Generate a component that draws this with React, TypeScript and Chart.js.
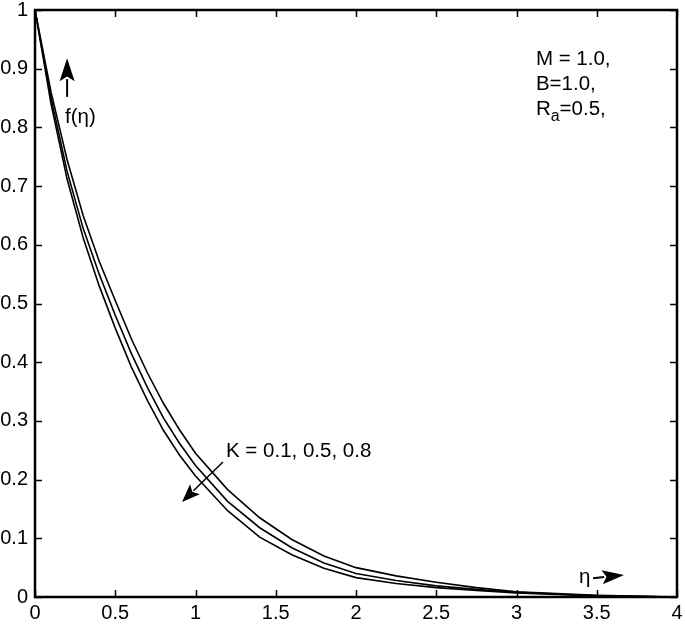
import React, { useEffect, useRef } from "react";
import { Chart, registerables } from "chart.js";

Chart.register(...registerables);

// eta values (x axis)
const eta = [0, 0.1, 0.2, 0.3, 0.4, 0.5, 0.6, 0.7, 0.8, 0.9, 1.0, 1.2, 1.4, 1.6, 1.8, 2.0, 2.25, 2.5, 2.75, 3.0, 3.5, 4.0];
// f(eta) for K = 0.1 (outer), 0.5 (middle), 0.8 (inner)
const fK01 = [1, 0.86, 0.745, 0.65, 0.572, 0.505, 0.44, 0.382, 0.33, 0.285, 0.245, 0.183, 0.135, 0.098, 0.07, 0.05, 0.036, 0.025, 0.016, 0.009, 0.003, 0];
const fK05 = [1, 0.85, 0.725, 0.628, 0.55, 0.48, 0.415, 0.357, 0.305, 0.262, 0.224, 0.163, 0.118, 0.084, 0.058, 0.04, 0.028, 0.019, 0.013, 0.008, 0.002, 0];
const fK08 = [1, 0.84, 0.712, 0.612, 0.53, 0.458, 0.392, 0.335, 0.284, 0.242, 0.206, 0.147, 0.102, 0.072, 0.049, 0.033, 0.023, 0.016, 0.011, 0.007, 0.002, 0];

const xTicks = [0, 0.5, 1, 1.5, 2, 2.5, 3, 3.5, 4];
const yTicks = [0, 0.1, 0.2, 0.3, 0.4, 0.5, 0.6, 0.7, 0.8, 0.9, 1];

const paramM = "M = 1.0,";
const paramB = "B=1.0,";
const paramR = "R";
const paramRSub = "a";
const paramRVal = "=0.5,";
const kLabel = "K = 0.1, 0.5, 0.8";
const fLabel = "f(η)";
const etaLabel = "η";

const FONT = "'Liberation Sans', Arial, Helvetica, sans-serif";

function drawArrow(ctx: CanvasRenderingContext2D, x1: number, y1: number, x2: number, y2: number, headLen: number, headHalf: number, lw: number) {
  const dx = x2 - x1, dy = y2 - y1;
  const len = Math.hypot(dx, dy);
  const ux = dx / len, uy = dy / len;
  const bx = x2 - ux * headLen, by = y2 - uy * headLen;
  ctx.beginPath();
  ctx.lineWidth = lw;
  ctx.moveTo(x1, y1);
  ctx.lineTo(bx + ux * 2, by + uy * 2);
  ctx.stroke();
  const nx = -uy, ny = ux;
  const notch = headLen * 0.2;
  ctx.beginPath();
  ctx.moveTo(x2, y2);
  ctx.lineTo(bx + nx * headHalf, by + ny * headHalf);
  ctx.lineTo(bx + ux * notch, by + uy * notch);
  ctx.lineTo(bx - nx * headHalf, by - ny * headHalf);
  ctx.closePath();
  ctx.fill();
}

const framePlugin = {
  id: "framePlugin",
  afterDraw(chart: any) {
    const ctx: CanvasRenderingContext2D = chart.ctx;
    const { left, right, top, bottom } = chart.chartArea;
    const xs = chart.scales.x;
    const ys = chart.scales.y;
    const X = (v: number) => xs.getPixelForValue(v);
    const Y = (v: number) => ys.getPixelForValue(v);
    ctx.save();
    ctx.strokeStyle = "#000";
    ctx.fillStyle = "#000";
    ctx.lineWidth = 2.5;
    ctx.strokeRect(left, top, right - left, bottom - top);
    ctx.lineWidth = 1.5;
    const tl = 7;
    ctx.beginPath();
    xTicks.forEach((v) => {
      const px = Math.round(X(v)) + 0.5;
      ctx.moveTo(px, bottom); ctx.lineTo(px, bottom - tl);
      ctx.moveTo(px, top); ctx.lineTo(px, top + tl);
    });
    yTicks.forEach((v) => {
      const py = Math.round(Y(v)) + 0.5;
      ctx.moveTo(left, py); ctx.lineTo(left + tl, py);
      ctx.moveTo(right, py); ctx.lineTo(right - tl, py);
    });
    ctx.stroke();

    // Parameter block
    ctx.font = `20.5px ${FONT}`;
    ctx.textAlign = "left";
    ctx.textBaseline = "alphabetic";
    const px0 = X(3.121);
    ctx.fillText(paramM, px0, Y(0.906));
    ctx.fillText(paramB, px0, Y(0.864));
    const ry = Y(0.821);
    ctx.fillText(paramR, px0, ry);
    const rw = ctx.measureText(paramR).width;
    ctx.font = `16px ${FONT}`;
    ctx.fillText(paramRSub, px0 + rw, ry + 6);
    const sw = ctx.measureText(paramRSub).width;
    ctx.font = `20.5px ${FONT}`;
    ctx.fillText(paramRVal, px0 + rw + sw, ry);

    // f(eta) arrow + label
    drawArrow(ctx, X(0.2), Y(0.852), X(0.2), Y(0.918), 23, 7.5, 2);
    ctx.font = `20.5px ${FONT}`;
    ctx.fillText(fLabel, X(0.187), Y(0.8075));

    // K label + arrow
    ctx.fillText(kLabel, X(1.19), Y(0.2385));
    drawArrow(ctx, X(1.171), Y(0.23), X(0.916), Y(0.162), 18, 7, 1.5);

    // eta arrow + label
    ctx.fillText(etaLabel, X(3.39), Y(0.024));
    drawArrow(ctx, X(3.477), Y(0.032), X(3.67), Y(0.0375), 22, 7, 2);
    ctx.restore();
  },
};

export default function App() {
  const canvasRef = useRef<HTMLCanvasElement | null>(null);
  useEffect(() => {
    document.body.style.margin = "0";
    const canvas = canvasRef.current;
    if (!canvas) return;
    const mk = (ys: number[]) => eta.map((x, i) => ({ x, y: ys[i] }));
    const ds = (label: string, ys: number[]) => ({
      label,
      data: mk(ys),
      borderColor: "#000",
      borderWidth: 1.6,
      pointRadius: 0,
      tension: 0,
      fill: false,
    });
    const chart = new Chart(canvas, {
      type: "line",
      data: {
        datasets: [ds("K = 0.1", fK01), ds("K = 0.5", fK05), ds("K = 0.8", fK08)],
      },
      options: {
        responsive: false,
        animation: false,
        devicePixelRatio: 1,
        layout: { padding: { top: 10, right: 8, left: 0, bottom: 0 } },
        plugins: { legend: { display: false }, tooltip: { enabled: false } },
        scales: {
          x: {
            type: "linear",
            min: 0,
            max: 4,
            grid: { display: false, drawTicks: false },
            border: { display: false },
            afterBuildTicks: (s: any) => { s.ticks = xTicks.map((v) => ({ value: v })); },
            ticks: {
              color: "#000",
              padding: 4,
              maxRotation: 0,
              font: { size: 20, family: FONT },
              callback: (v: any) => String(Math.round(Number(v) * 10) / 10),
            },
            afterFit: (s: any) => { s.height = 32; s.paddingLeft = 0; s.paddingRight = 0; },
          },
          y: {
            type: "linear",
            min: 0,
            max: 1,
            grid: { display: false, drawTicks: false },
            border: { display: false },
            afterBuildTicks: (s: any) => { s.ticks = yTicks.map((v) => ({ value: v })); },
            ticks: {
              color: "#000",
              padding: 7,
              font: { size: 20, family: FONT },
              callback: (v: any) => String(Math.round(Number(v) * 10) / 10),
            },
            afterFit: (s: any) => { s.width = 35; s.paddingTop = 0; s.paddingBottom = 0; },
          },
        },
      },
      plugins: [framePlugin],
    } as any);
    return () => chart.destroy();
  }, []);
  return (
    <div style={{ width: 685, height: 629, background: "#fff" }}>
      <canvas ref={canvasRef} width={685} height={629} style={{ display: "block" }} />
    </div>
  );
}
